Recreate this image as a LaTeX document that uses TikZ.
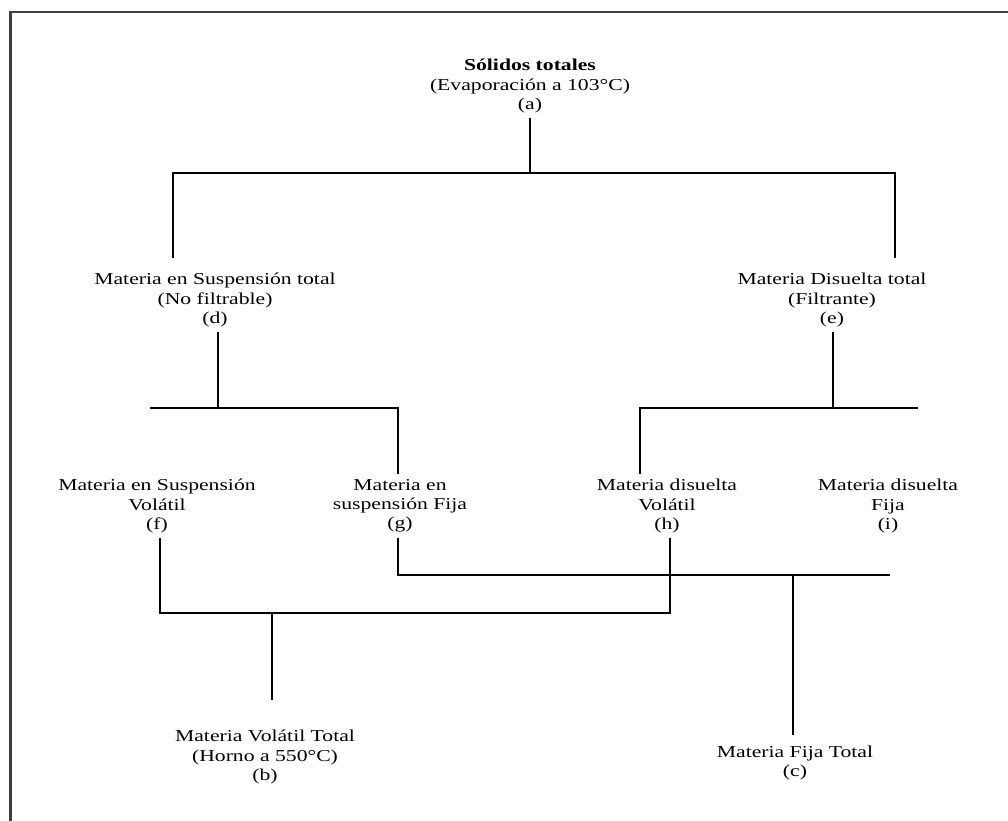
\documentclass[tikz,border=0pt]{standalone}
\usepackage{fontspec}
\setmainfont{Liberation Serif}[FakeStretch=1.3]
\begin{document}
\begin{tikzpicture}[x=0.75pt,y=-0.75pt,
  lbl/.style={align=center, inner sep=4pt, font=\fontsize{12.5}{14.3}\selectfont},
  conn/.style={draw=black, line width=1.3pt},
  frame/.style={draw=black!75, line width=1.6pt}]
\useasboundingbox (0,0) rectangle (1008,821);
\draw[frame] (10.5,821) -- (10.5,12) -- (1008,12);

% nodes
\node[lbl] (a) at (530,86) {\textbf{Sólidos totales}\\(Evaporación a 103°C)\\(a)};
\node[lbl] (d) at (215,300) {Materia en Suspensión total\\(No filtrable)\\(d)};
\node[lbl] (e) at (832,300) {Materia Disuelta total\\(Filtrante)\\(e)};
\node[lbl] (f) at (157,506) {Materia en Suspensión\\Volátil\\(f)};
\node[lbl] (g) at (400,506) {Materia en\\suspensión Fija\\(g)};
\node[lbl] (h) at (667,506) {Materia disuelta\\Volátil\\(h)};
\node[lbl] (i) at (888,506) {Materia disuelta\\Fija\\(i)};
\node[lbl] (b) at (265,757) {Materia Volátil Total\\(Horno a 550°C)\\(b)};
\node[lbl] (c) at (795,763) {Materia Fija Total\\(c)};

% junctions
\coordinate (ta) at (530,173);
\coordinate (tl) at (173,173);
\coordinate (tr) at (895,173);
\coordinate (dTop) at (173,258);
\coordinate (eTop) at (895,258);
\coordinate (dj) at (218,408);
\coordinate (dL) at (150,408);
\coordinate (dR) at (398,408);
\coordinate (gTop) at (398,474);
\coordinate (ej) at (833,408);
\coordinate (eL) at (640,408);
\coordinate (eR) at (918,408);
\coordinate (hTop) at (640,474);
\coordinate (fB) at (160,613);
\coordinate (hB) at (670,613);
\coordinate (bj) at (272,613);
\coordinate (bTop) at (272,700);
\coordinate (gB) at (398,575);
\coordinate (iR) at (890,575);
\coordinate (cj) at (793,575);
\coordinate (cTop) at (793,735);

% connectors
\draw[conn] (a.south -| ta) -- (ta);
\draw[conn] (dTop) -- (tl) -- (tr) -- (eTop);
\draw[conn] (d.south -| dj) -- (dj);
\draw[conn] (dL) -- (dR) -- (gTop);
\draw[conn] (e.south -| ej) -- (ej);
\draw[conn] (hTop) -- (eL) -- (eR);
\draw[conn] (f.south -| fB) -- (fB) -- (hB) -- (h.south -| hB);
\draw[conn] (bj) -- (bTop);
\draw[conn] (g.south -| gB) -- (gB) -- (iR);
\draw[conn] (cj) -- (cTop);
\end{tikzpicture}
\end{document}
